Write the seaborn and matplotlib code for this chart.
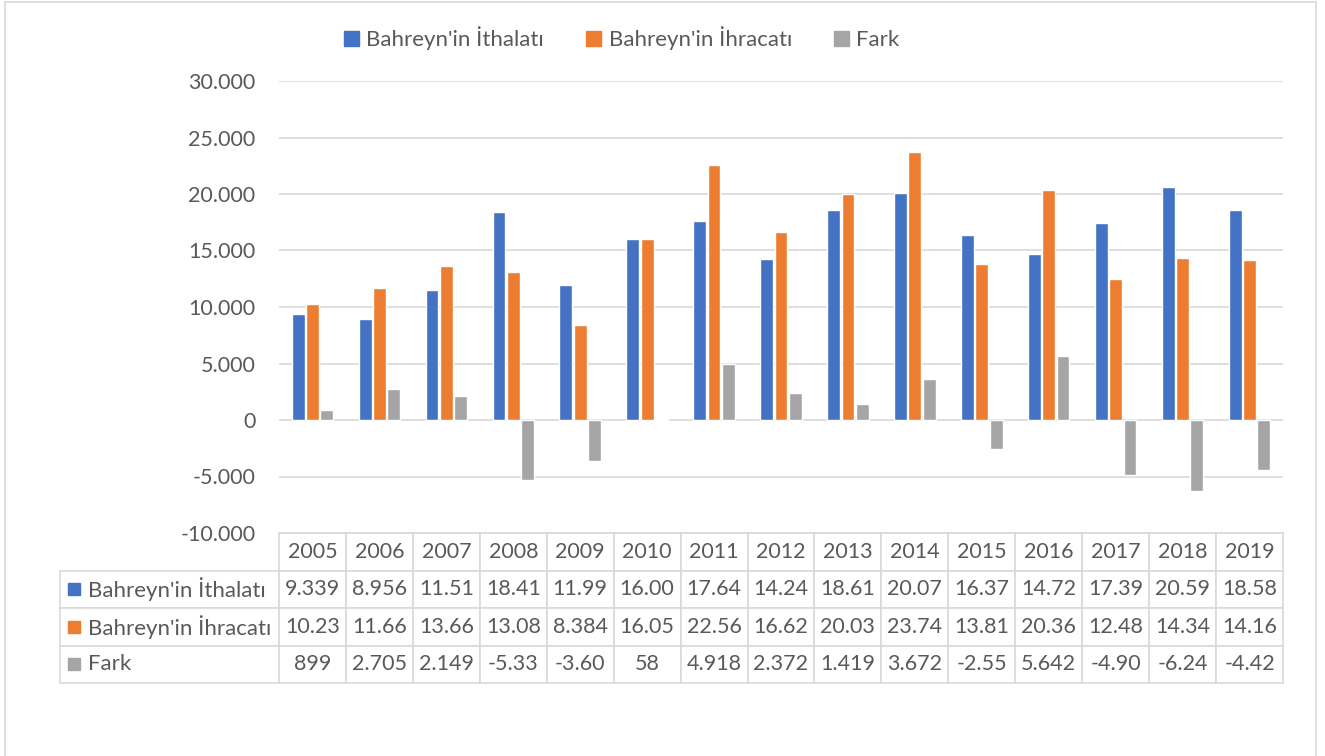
import pandas as pd
import matplotlib
matplotlib.use("Agg")
import matplotlib.pyplot as plt
from matplotlib.patches import Rectangle
from matplotlib.ticker import FuncFormatter, MultipleLocator
import seaborn as sns

years = [str(y) for y in range(2005, 2020)]
ithalat = [9339, 8956, 11510, 18410, 11990, 16000, 17640, 14240, 18610, 20070,
           16370, 14720, 17390, 20590, 18580]
ihracat = [10230, 11660, 13660, 13080, 8384, 16050, 22560, 16620, 20030, 23740,
           13810, 20360, 12480, 14340, 14160]
fark = [899, 2705, 2149, -5330, -3600, 58, 4918, 2372, 1419, 3672,
        -2550, 5642, -4900, -6240, -4420]

series = ["Bahreyn'in İthalatı", "Bahreyn'in İhracatı", "Fark"]
colors = ["#4472C4", "#ED7D31", "#A5A5A5"]
txt_color = "#595959"
grid_color = "#D9D9D9"
fs = 15.5


def tr_num(v):
    # thousands with dot, like the Turkish Excel format
    return f"{v:,.0f}".replace(",", ".")


def cell_num(v):
    # Excel cuts the number off when the column is narrow
    return tr_num(v)[:5]


df = pd.DataFrame({"Yıl": years, series[0]: ithalat, series[1]: ihracat, series[2]: fark})
long_df = df.melt(id_vars="Yıl", var_name="Seri", value_name="Değer")

sns.set_style("white")
plt.rcParams["font.family"] = ["Lato", "DejaVu Sans"]

fig = plt.figure(figsize=(13.25, 7.56), dpi=100)
ax = fig.add_axes([279 / 1325, 1 - 533 / 756, 1004 / 1325, 452 / 756])

sns.barplot(data=long_df, x="Yıl", y="Değer", hue="Seri", order=years,
            hue_order=series, palette=colors, width=0.64, gap=0.1,
            saturation=1, legend=False, ax=ax, zorder=3)

ax.set_ylim(-10000, 30000)
ax.set_xlim(-0.5, len(years) - 0.5)
ax.yaxis.set_major_locator(MultipleLocator(5000))
ax.yaxis.set_major_formatter(FuncFormatter(lambda v, p: tr_num(v)))
ax.grid(axis="y", color=grid_color, linewidth=1.2, zorder=0)
ax.set_axisbelow(True)
for s in ax.spines.values():
    s.set_visible(False)
ax.tick_params(axis="y", length=0, pad=17, labelsize=fs, labelcolor=txt_color)
ax.set_xticks([])
ax.set_xlabel("")
ax.set_ylabel("")

# data table under the plot: header row + one row per series
rows = [[""] + years]
for name, vals in zip(series, (ithalat, ihracat, fark)):
    rows.append([name] + [cell_num(v) for v in vals])

label_w = 219 / 1004
col_w = [label_w] + [1 / len(years)] * len(years)
tbl = ax.table(cellText=rows, colWidths=col_w, cellLoc="center",
               bbox=[-label_w, -150 / 452, 1 + label_w, 150 / 452])
tbl.auto_set_font_size(False)
tbl.set_fontsize(fs)
for (r, c), cell in tbl.get_celld().items():
    cell.set_edgecolor(grid_color)
    cell.set_linewidth(1.2)
    cell.get_text().set_color(txt_color)
    if c == 0:
        cell._loc = "left"
        cell.get_text().set_ha("left")
        cell.get_text().set_fontsize(16)
        cell.PAD = 28 / 219
    if r == 0 and c == 0:
        cell.visible_edges = ""

# coloured keys in the row label cells
row_h = 150 / 452 / 4
for i, col in enumerate(colors):
    yc = -row_h * (i + 1.5)
    ax.add_patch(Rectangle((-211 / 1004, yc - 6 / 452), 12 / 1004, 12 / 452,
                           transform=ax.transAxes, color=col, clip_on=False))

handles = [Rectangle((0, 0), 1, 1, color=c) for c in colors]
fig.legend(handles, series, loc="center", bbox_to_anchor=(622 / 1325, 1 - 38 / 756),
           ncol=3, frameon=False, fontsize=16, labelcolor=txt_color,
           handlelength=0.65, handleheight=0.65, handletextpad=0.35, columnspacing=1.9)

fig.add_artist(Rectangle((5 / 1325, -0.01), 1311 / 1325, 1.01 - 2 / 756,
                         transform=fig.transFigure, fill=False, ec=grid_color, lw=1.2))

fig.savefig("out.png", dpi=100)
